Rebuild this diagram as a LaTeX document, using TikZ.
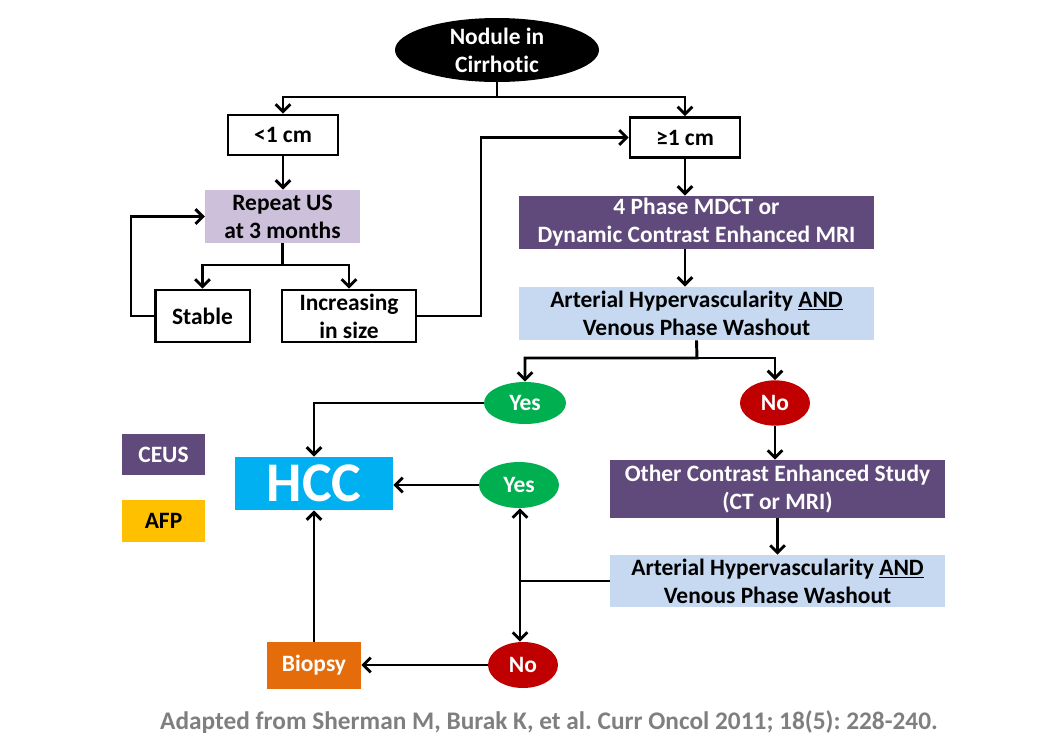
\documentclass[tikz,border=0pt]{standalone}
\usepackage{fontspec}
\setmainfont{Carlito}[Ligatures=CommonOff]
\usepackage{xcolor}
\definecolor{hccLilac} {RGB}{204, 192, 218}
\definecolor{hccPlum}  {RGB}{ 96,  74, 123}
\definecolor{hccSky}   {RGB}{198, 217, 241}
\definecolor{hccGreen} {RGB}{  0, 176,  80}
\definecolor{hccRed}   {RGB}{192,   0,   0}
\definecolor{hccCyan}  {RGB}{  0, 176, 240}
\definecolor{hccOrange}{RGB}{228, 108,  10}
\definecolor{hccGold}  {RGB}{255, 192,   0}
\definecolor{hccGray}  {RGB}{127, 127, 127}
\newcommand{\boxfont}{\fontsize{17.6}{21}\selectfont\bfseries}
\frenchspacing
\usetikzlibrary{
  arrows.meta,
  positioning,
  shapes.geometric,
}

\begin{document}
\begin{tikzpicture}[
  x=0.75pt, y=-0.75pt,
  wbox/.style={draw=black, line width=2pt, fill=white, inner sep=0pt,
               align=center, font=\boxfont},
  fillbox/.style={inner sep=0pt, align=center, font=\boxfont},
  oval/.style={ellipse, inner sep=0pt, align=center, font=\boxfont,
               text=white},
  tag/.style={fillbox, minimum width=62pt, minimum height=31pt},
  line/.style={line width=2.2pt},
  flow/.style={line, -{Straight Barb[length=5.5pt,width=11pt]}},
]
  \useasboundingbox (0,0) rectangle (1054,754);

  % start node and the size split
  \node[oval, fill=black, minimum width=153pt, minimum height=48pt]
        (nod)  at (497, 50) {Nodule in\\Cirrhotic};
  \node[wbox, minimum width=82.5pt, minimum height=30pt]
        (small) at (283,135) {<1 cm};
  \node[wbox, minimum width=82.5pt, minimum height=30pt]
        (large) at (685,137.5) {≥1 cm};

  % small nodule branch on the left
  \node[fillbox, fill=hccLilac, minimum width=116pt, minimum height=40pt]
        (rep)  at (282.5,216.5) {Repeat US\\at 3 months};
  \node[wbox, minimum width=71pt, minimum height=39pt]
        (stab) at (202.5,316) {Stable};
  \node[wbox, minimum width=100.5pt, minimum height=39pt]
        (incr) at (349,316) {Increasing\\in size};

  % imaging column on the right
  \node[fillbox, fill=hccPlum, text=white, minimum width=266pt, minimum height=40pt]
        (mdct) at (696.5,222.5) {4 Phase MDCT or\\Dynamic Contrast Enhanced MRI};
  \node[fillbox, fill=hccSky, minimum width=266pt, minimum height=40pt]
        (ahA)  at (696.5,313.5) {Arterial Hypervascularity \underline{AND}\\Venous Phase Washout};
  \node[oval, fill=hccGreen, minimum width=61.5pt, minimum height=31.5pt]
        (yesA) at (525,403) {Yes};
  \node[oval, fill=hccRed, minimum width=52.5pt, minimum height=34pt]
        (noA)  at (775,403) {No};
  \node[fillbox, fill=hccPlum, text=white, minimum width=251pt, minimum height=43.5pt]
        (ocs)  at (777.5,489) {Other Contrast Enhanced Study\\(CT or MRI)};
  \node[fillbox, fill=hccSky, minimum width=251pt, minimum height=39pt]
        (ahB)  at (777.5,581) {Arterial Hypervascularity \underline{AND}\\Venous Phase Washout};
  \node[oval, fill=hccGreen, minimum width=60pt, minimum height=34.5pt]
        (yesB) at (519,485) {Yes};
  \node[oval, fill=hccRed, minimum width=52.5pt, minimum height=34.5pt]
        (noB)  at (523,665) {No};

  % outcomes
  \node[fillbox, fill=hccCyan, text=white, minimum width=118.5pt, minimum height=40pt,
        font=\fontsize{42}{42}\selectfont\bfseries]
        (hcc)  at (314,483.5) {HCC};
  \node[fillbox, fill=hccOrange, text=white, minimum width=70.5pt, minimum height=35pt]
        (biop) at (314,665.5) {Biopsy};

  % colour key
  \node[tag, fill=hccPlum, text=white] (ceus) at (163.5,454.5) {CEUS};
  \node[tag, fill=hccGold]             (afp)  at (163.5,521)   {AFP};

  \node[font=\fontsize{19}{21}\selectfont\bfseries, text=hccGray] (cite) at (549,722)
        {Adapted from Sherman M, Burak K, et al. Curr Oncol 2011; 18(5): 228-240.};

  % bend points
  \coordinate (forkA) at (497, 97);
  \coordinate (forkB) at (283,265);
  \coordinate (loopL) at (131,316);
  \coordinate (riseR) at (481,316);
  \coordinate (forkC) at (697,358);
  \coordinate (forkD) at (520,581);

  \draw[flow] (nod.south) -- (forkA) -| (small.north);
  \draw[flow] (forkA) -| (large.north);
  \draw[flow] (small.south) -- (small.south |- rep.north);
  \draw[flow] (rep.south |- forkB) -| (stab.north);
  \draw[line] (rep.south) -- (rep.south |- forkB);
  \draw[flow] (forkB) -| (incr.north);
  \draw[flow] (stab.west) -- (loopL) |- (rep.west);
  \draw[flow] (incr.east) -- (riseR) |- (large.west);
  \draw[flow] (large.south) -- (large.south |- mdct.north);
  \draw[flow] (large.south |- mdct.south) -- (large.south |- ahA.north);
  \draw[flow] (ahA.south) -- (forkC) -| (yesA.north);
  \draw[flow] (forkC) -| (noA.north);
  \draw[flow] (yesA.west) -| (hcc.north);
  \draw[flow] (noA.south) -- (noA.south |- ocs.north);
  \draw[flow] (ocs.south) -- (ahB.north);
  \draw[line] (ahB.west) -- (forkD);
  \draw[flow] (forkD) -- (forkD |- yesB.south);
  \draw[flow] (forkD) -- (forkD |- noB.north);
  \draw[flow] (yesB.west) -- (yesB.west -| hcc.east);
  \draw[flow] (noB.west) -- (noB.west -| biop.east);
  \draw[flow] (biop.north) -- (hcc.south);
\end{tikzpicture}
\end{document}
